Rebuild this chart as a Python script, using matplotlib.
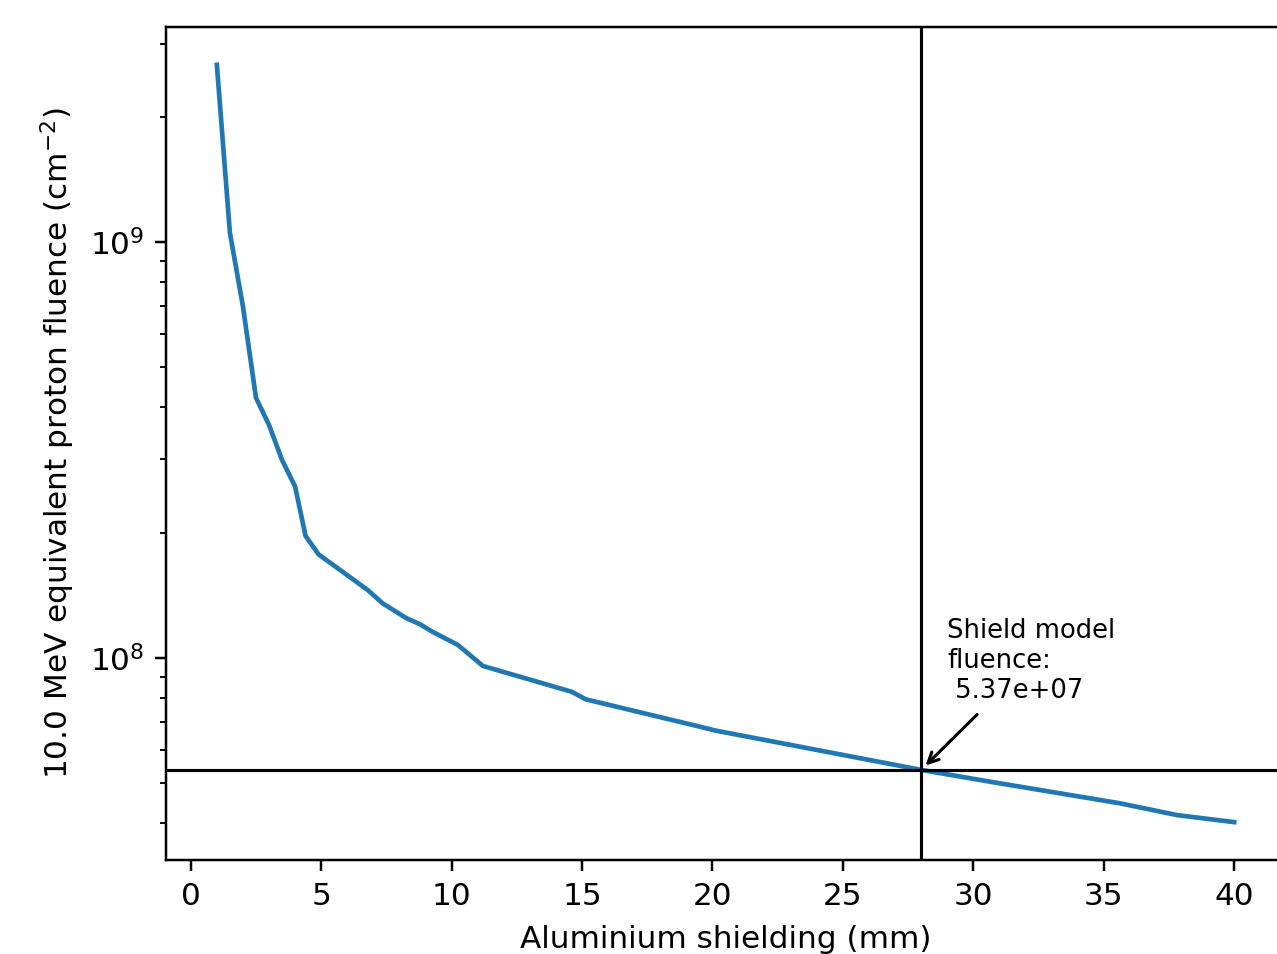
import matplotlib
matplotlib.use("Agg")
import matplotlib.pyplot as plt

# Aluminium shielding thickness (mm) and 10 MeV equivalent proton fluence (cm^-2)
thickness_mm = [1.0, 1.5, 2.0, 2.5, 3.0, 3.5, 4.0, 4.4, 4.9, 6.8, 7.35, 8.27,
                8.77, 9.28, 10.24, 11.2, 14.6, 15.14, 19.4, 20.1, 28.0, 30.64,
                35.64, 37.81, 40.0]
fluence = [2.67e9, 1.053e9, 7.0e8, 4.22e8, 3.63e8, 2.99e8, 2.58e8, 1.963e8,
           1.772e8, 1.452e8, 1.352e8, 1.244e8, 1.205e8, 1.153e8, 1.073e8,
           9.55e7, 8.28e7, 7.94e7, 6.85e7, 6.68e7, 5.37e7, 5.03e7, 4.46e7,
           4.18e7, 4.02e7]

shield_mm = 28.0
shield_fluence = 5.37e7
energy_mev = 10.0

DPI = 224
fig = plt.figure(figsize=(1277 / DPI, 954 / DPI), dpi=DPI)
ax = fig.add_axes([0.12999, 0.09853, 0.8763, 0.87317])

ax.plot(thickness_mm, fluence, color="#1f77b4", linewidth=1.5)
ax.set_yscale("log")

ax.axvline(shield_mm, color="black", linewidth=1)
ax.axhline(shield_fluence, color="black", linewidth=1)

ax.annotate(f"Shield model\nfluence:\n {shield_fluence:.2e}",
            xy=(shield_mm, shield_fluence), xytext=(29.0, 8.0e7),
            fontsize="small", arrowprops=dict(arrowstyle="->", color="black"))

ax.set_xlabel("Aluminium shielding (mm)", labelpad=4.7)
ax.set_ylabel(f"{energy_mev} MeV equivalent proton fluence (cm$^{{-2}}$)")

fig.savefig("out.png", dpi=DPI)
